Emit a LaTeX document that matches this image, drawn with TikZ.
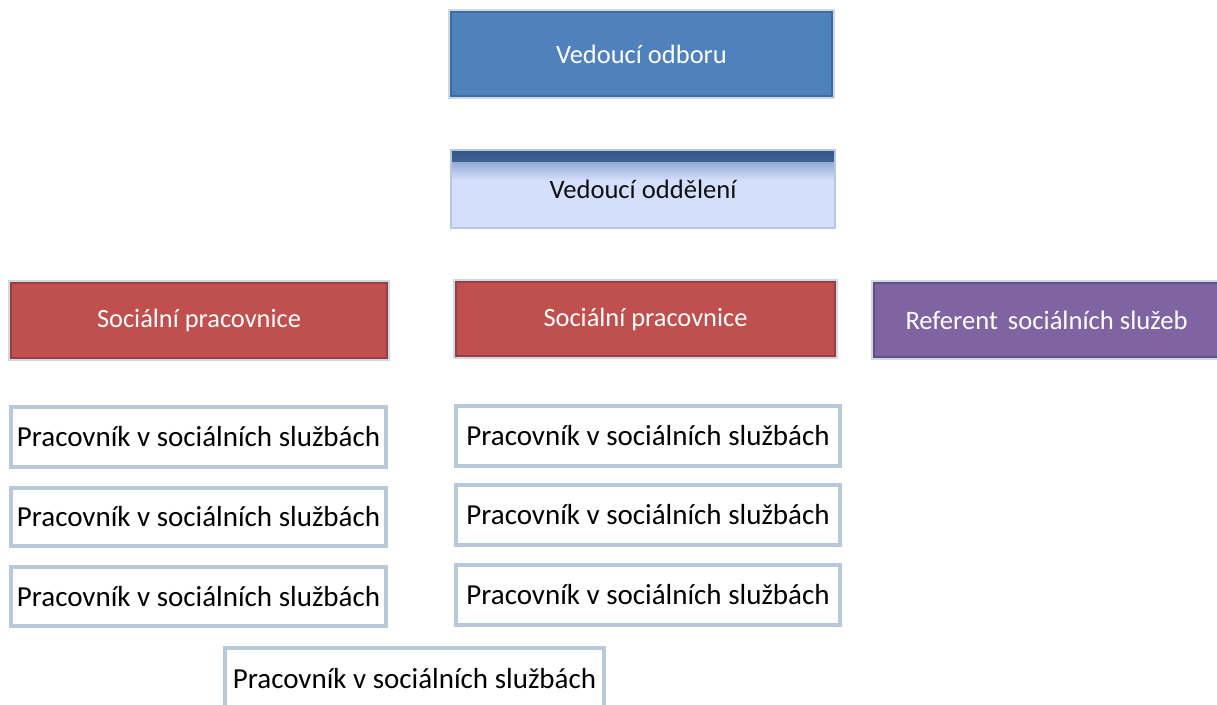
\documentclass[tikz,border=0pt]{standalone}
\usepackage{fontspec}
\setmainfont{Carlito}
\definecolor{halo}{HTML}{B9C9DC}
\definecolor{blueF}{HTML}{4F81BD}
\definecolor{blueD}{HTML}{3D6AA3}
\definecolor{lightF}{HTML}{D4DFFB}
\definecolor{lightTop}{HTML}{33568A}
\definecolor{lightMid}{HTML}{96ACD6}
\definecolor{redF}{HTML}{C0504D}
\definecolor{redD}{HTML}{9A3E45}
\definecolor{purF}{HTML}{8064A2}
\definecolor{purD}{HTML}{5E4E8A}
\definecolor{txt}{HTML}{101010}
\begin{document}
\begin{tikzpicture}[x=1pt,y=-1pt,
  box/.style={anchor=north west, inner sep=0pt, outer sep=0pt, align=center},
  headbox/.style={box, draw=blueD, line width=1.5pt, fill=blueF, text=white, font=\fontsize{26.5}{30}\selectfont},
  depbox/.style={box, draw=halo, line width=2.5pt, fill=lightF, text=txt, font=\fontsize{26.6}{30}\selectfont},
  redbox/.style={box, draw=redD, line width=1.5pt, fill=redF, text=white, font=\fontsize{26.4}{30}\selectfont},
  purbox/.style={box, draw=purD, line width=1.5pt, fill=purF, text=white, font=\fontsize{26.6}{30}\selectfont},
  whitebox/.style={box, draw=halo, line width=4pt, fill=white, text=black, font=\fontsize{29}{32}\selectfont},
  haloline/.style={draw=halo!70, line width=1.2pt}
]
\useasboundingbox (0,0) rectangle (1217,704);
\clip (0,0) rectangle (1217,704);

% halos for coloured boxes
\draw[haloline] (449,10) rectangle (834,98);
\draw[haloline] (9,281) rectangle (389,360);
\draw[haloline] (454,280) rectangle (837,358);
\draw[haloline] (872,281) rectangle (1218,359);

\node[headbox, minimum width=381pt, minimum height=84pt] (odbor) at (451,12) {Vedoucí odboru};

\node[depbox, minimum width=384pt, minimum height=78pt,
  path picture={
    \shade[top color=lightTop, bottom color=lightMid]
      (path picture bounding box.north west) rectangle ([yshift=-13pt]path picture bounding box.north east);
    \shade[top color=lightMid, bottom color=lightF]
      ([yshift=-12.5pt]path picture bounding box.north west) rectangle ([yshift=-30pt]path picture bounding box.north east);}
  ] (odd) at (451,150) {Vedoucí oddělení};

\node[redbox, minimum width=376pt, minimum height=75pt] (sp1) at (11,283) {Sociální pracovnice};
\node[redbox, minimum width=379pt, minimum height=74pt] (sp2) at (456,282) {Sociální pracovnice};
\node[purbox, minimum width=345pt, minimum height=74pt] (ref) at (874,283) {Referent\hspace{4pt} sociálních služeb};

\node[whitebox, minimum width=375pt, minimum height=60pt] (p11) at (11,407) {Pracovník v sociálních službách};
\node[whitebox, minimum width=375pt, minimum height=58pt] (p12) at (11,488) {Pracovník v sociálních službách};
\node[whitebox, minimum width=375pt, minimum height=59pt] (p13) at (11,567) {Pracovník v sociálních službách};

\node[whitebox, minimum width=384pt, minimum height=60pt] (p21) at (456,406) {Pracovník v sociálních službách};
\node[whitebox, minimum width=384pt, minimum height=60pt] (p22) at (456,485) {Pracovník v sociálních službách};
\node[whitebox, minimum width=384pt, minimum height=60pt] (p23) at (456,565) {Pracovník v sociálních službách};

\node[whitebox, minimum width=379pt, minimum height=62pt] (p3) at (225,648) {Pracovník v sociálních službách};
\end{tikzpicture}
\end{document}
